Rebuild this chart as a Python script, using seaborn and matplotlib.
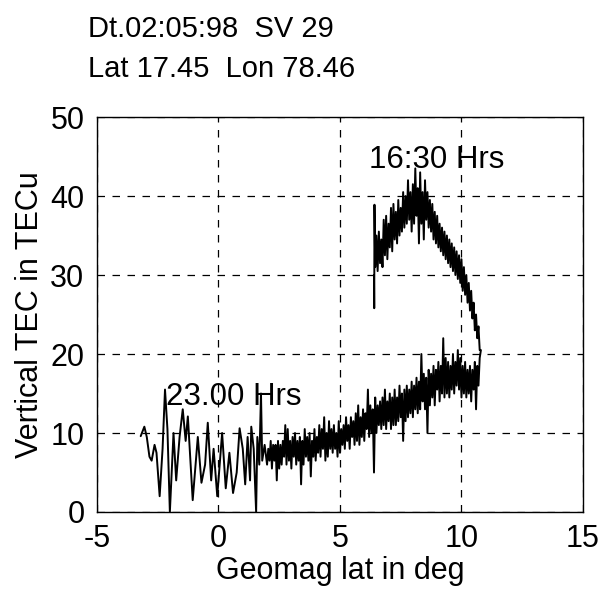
import numpy as np
import pandas as pd
import matplotlib
matplotlib.use("Agg")
import matplotlib.pyplot as plt
import seaborn as sns

# --- data (in time order: 16:30 -> 23:00 Hrs) ---
# rising/peak branch, 16:30 Hrs start
upper_lat = [6.40, 6.41, 6.42, 6.45, 6.50, 6.55, 6.60, 6.65, 6.70, 6.75,
             6.80, 6.85, 6.90, 6.95, 7.00, 7.05, 7.10, 7.15, 7.20, 7.25,
             7.30, 7.35, 7.40, 7.45, 7.50, 7.55, 7.60, 7.65, 7.70, 7.75,
             7.80, 7.85, 7.90, 7.95, 8.00, 8.05, 8.10, 8.15, 8.20, 8.25,
             8.30, 8.35, 8.40, 8.45, 8.50, 8.55, 8.60, 8.65, 8.70, 8.75,
             8.80, 8.85, 8.90, 8.95, 9.00, 9.05, 9.10, 9.15, 9.20, 9.25,
             9.30, 9.35, 9.40, 9.45, 9.50, 9.55, 9.60, 9.65, 9.70, 9.75,
             9.80, 9.85, 9.90, 9.95, 10.00, 10.05, 10.10, 10.15, 10.20, 10.25,
             10.30, 10.35, 10.40, 10.45, 10.50, 10.55, 10.60, 10.65, 10.70, 10.75,
             10.80]
upper_tec = [30.0, 25.8, 38.9, 31.0, 35.0, 30.5, 35.5, 31.5, 34.5, 31.0,
             37.0, 32.5, 37.5, 32.0, 36.5, 33.5, 38.5, 33.0, 39.0, 34.5,
             38.0, 34.0, 39.5, 35.0, 38.5, 35.5, 40.5, 36.0, 40.0, 36.5,
             42.0, 37.0, 40.5, 35.5, 41.5, 36.5, 43.5, 37.5, 41.0, 34.0,
             43.0, 36.5, 40.5, 34.5, 42.0, 37.0, 40.5, 36.0, 39.5, 35.5,
             39.0, 34.5, 38.0, 34.0, 37.5, 33.5, 36.5, 33.0, 36.0, 32.5,
             35.5, 32.0, 35.0, 31.5, 34.5, 31.0, 34.0, 30.5, 33.5, 30.0,
             33.0, 29.5, 32.5, 29.0, 32.0, 28.0, 31.0, 27.5, 30.0, 26.5,
             29.0, 25.5, 28.0, 24.5, 26.5, 23.0, 25.0, 22.0, 23.5, 20.5,
             20.5]

# returning branch, dense part
lower_lat = [10.75, 10.70, 10.65, 10.60, 10.55, 10.50, 10.45, 10.40, 10.35, 10.30,
             10.25, 10.20, 10.15, 10.10, 10.05, 10.00, 9.95, 9.90, 9.85, 9.80,
             9.75, 9.70, 9.65, 9.60, 9.55, 9.50, 9.45, 9.40, 9.35, 9.30,
             9.25, 9.20, 9.15, 9.10, 9.05, 9.00, 8.95, 8.90, 8.85, 8.80,
             8.75, 8.70, 8.65, 8.60, 8.55, 8.50, 8.45, 8.40, 8.35, 8.30,
             8.25, 8.20, 8.15, 8.10, 8.05, 8.00, 7.95, 7.90, 7.85, 7.80,
             7.75, 7.70, 7.65, 7.60, 7.55, 7.50, 7.45, 7.40, 7.35, 7.30,
             7.25, 7.20, 7.15, 7.10, 7.05, 7.00, 6.95, 6.90, 6.85, 6.80,
             6.75, 6.70, 6.65, 6.60, 6.55, 6.50, 6.45, 6.40, 6.35, 6.30,
             6.25, 6.20, 6.15, 6.10, 6.05, 6.00, 5.95, 5.90, 5.85, 5.80,
             5.75, 5.70, 5.65, 5.60, 5.55, 5.50, 5.45, 5.40, 5.35, 5.30,
             5.25, 5.20, 5.15, 5.10, 5.05, 5.00, 4.95, 4.90, 4.85, 4.80,
             4.75, 4.70, 4.65, 4.60, 4.55, 4.50, 4.45, 4.40, 4.35, 4.30,
             4.25, 4.20, 4.15, 4.10, 4.05, 4.00, 3.95, 3.90, 3.85, 3.80,
             3.75, 3.70, 3.65, 3.60, 3.55, 3.50, 3.45, 3.40, 3.35, 3.30,
             3.25, 3.20, 3.15, 3.10, 3.05, 3.00, 2.95, 2.90, 2.85, 2.80,
             2.75, 2.70, 2.65, 2.60, 2.55, 2.50, 2.45, 2.40, 2.35, 2.30,
             2.25, 2.20, 2.15, 2.10, 2.05, 2.00]
lower_tec = [19.5, 16.0, 18.5, 13.0, 19.0, 15.5, 18.0, 14.0, 18.5, 15.0,
             18.0, 14.5, 19.0, 15.0, 18.5, 14.5, 19.5, 15.5, 20.5, 16.0,
             19.0, 15.0, 20.0, 15.5, 18.5, 14.5, 19.0, 15.0, 19.5, 14.5,
             22.0, 15.0, 18.5, 14.0, 19.0, 15.5, 18.0, 13.5, 18.5, 14.5,
             17.5, 13.5, 18.0, 10.0, 17.0, 13.0, 17.5, 14.0, 20.0, 13.0,
             16.5, 12.5, 17.0, 13.0, 16.0, 12.0, 16.5, 12.5, 15.5, 12.0,
             16.0, 11.5, 15.5, 9.0, 15.0, 12.0, 16.0, 11.5, 14.5, 11.0,
             15.5, 11.0, 14.5, 10.5, 15.0, 11.5, 14.0, 10.5, 15.5, 11.0,
             14.5, 10.5, 14.0, 11.0, 13.5, 10.0, 14.5, 5.0, 13.0, 10.0,
             13.5, 9.5, 15.5, 10.5, 12.5, 9.0, 13.0, 9.5, 12.0, 8.5,
             13.5, 9.0, 12.5, 8.5, 11.5, 9.5, 12.0, 8.0, 11.0, 9.0,
             12.0, 8.0, 11.0, 8.5, 10.5, 7.5, 11.5, 7.0, 10.0, 8.0,
             11.0, 7.5, 10.5, 8.0, 11.5, 7.0, 10.0, 6.5, 12.0, 8.0,
             10.5, 7.0, 11.0, 7.5, 9.5, 6.5, 10.5, 7.0, 9.0, 4.5,
             10.0, 6.5, 9.5, 7.0, 10.5, 6.0, 9.0, 3.5, 9.5, 6.5,
             9.0, 6.0, 10.0, 7.0, 9.5, 5.5, 9.0, 6.5, 10.5, 6.0,
             11.0, 7.0, 9.0, 6.0, 8.5, 5.5, 9.0, 4.0, 8.5, 6.5,
             8.5, 5.5, 9.0, 6.5, 8.0, 6.0]

# sparse tail toward 23:00 Hrs
tail_lat = [1.90, 1.80, 1.75, 1.68, 1.60, 1.55, 1.45, 1.35, 1.30, 1.20,
            1.10, 1.00, 0.87, 0.75, 0.60, 0.45, 0.30, 0.15, -0.05, -0.20,
            -0.30, -0.44, -0.55, -0.70, -0.85, -1.06, -1.26, -1.35, -1.47, -1.60,
            -1.74, -1.85, -2.00, -2.10, -2.20, -2.30, -2.42, -2.55, -2.63, -2.75,
            -2.84, -2.95, -3.05, -3.20]
tail_tec = [8.5, 6.5, 15.0, 6.0, 9.5, 0.0, 8.0, 10.8, 4.0, 9.5,
            3.5, 8.0, 10.6, 5.0, 2.4, 7.5, 3.0, 10.0, 2.0, 8.0,
            4.0, 11.3, 6.0, 3.7, 9.5, 1.5, 12.1, 9.0, 13.0, 9.5,
            4.0, 10.0, 0.0, 10.5, 15.5, 8.0, 2.0, 7.5, 8.5, 6.5,
            7.0, 9.5, 10.8, 9.6]

df = pd.DataFrame({
    "lat": upper_lat + lower_lat + tail_lat,
    "tec": upper_tec + lower_tec + tail_tec,
})

sns.set_style("white")
plt.rcParams["font.family"] = ["Liberation Sans", "DejaVu Sans"]
plt.rcParams["text.color"] = "black"
plt.rcParams["axes.labelcolor"] = "black"
plt.rcParams["axes.unicode_minus"] = False

fig = plt.figure(figsize=(6.06, 5.93), dpi=100)
ax = fig.add_axes([0.160, 0.1366, 0.802, 0.666])

sns.lineplot(data=df, x="lat", y="tec", sort=False, estimator=None,
             color="black", linewidth=1.4, ax=ax)

ax.set_xlim(-5, 15)
ax.set_ylim(0, 50)
ax.set_xticks([-5, 0, 5, 10, 15])
ax.set_yticks([0, 10, 20, 30, 40, 50])
ax.grid(True, color="black", linestyle=(0, (6, 6)), linewidth=0.9)
ax.tick_params(direction="in", length=4, labelsize=22, pad=9,
               colors="black", labelcolor="black")
for sp in ax.spines.values():
    sp.set_color("black")
    sp.set_linewidth(1.0)

ax.set_xlabel("Geomag lat in deg", fontsize=22, labelpad=1)
ax.set_ylabel("Vertical TEC in TECu", fontsize=22, labelpad=4)

ax.text(6.2, 43.5, "16:30 Hrs", fontsize=22.5, ha="left", va="baseline")
ax.text(-2.15, 13.5, "23.00 Hrs", fontsize=22.5, ha="left", va="baseline")

fig.text(88 / 606, 1 - 29 / 593, "Dt.02:05:98  SV 29", fontsize=21,
         ha="left", va="center")
fig.text(88 / 606, 1 - 69 / 593, "Lat 17.45  Lon 78.46", fontsize=21,
         ha="left", va="center")

fig.savefig("out.png", dpi=100)
